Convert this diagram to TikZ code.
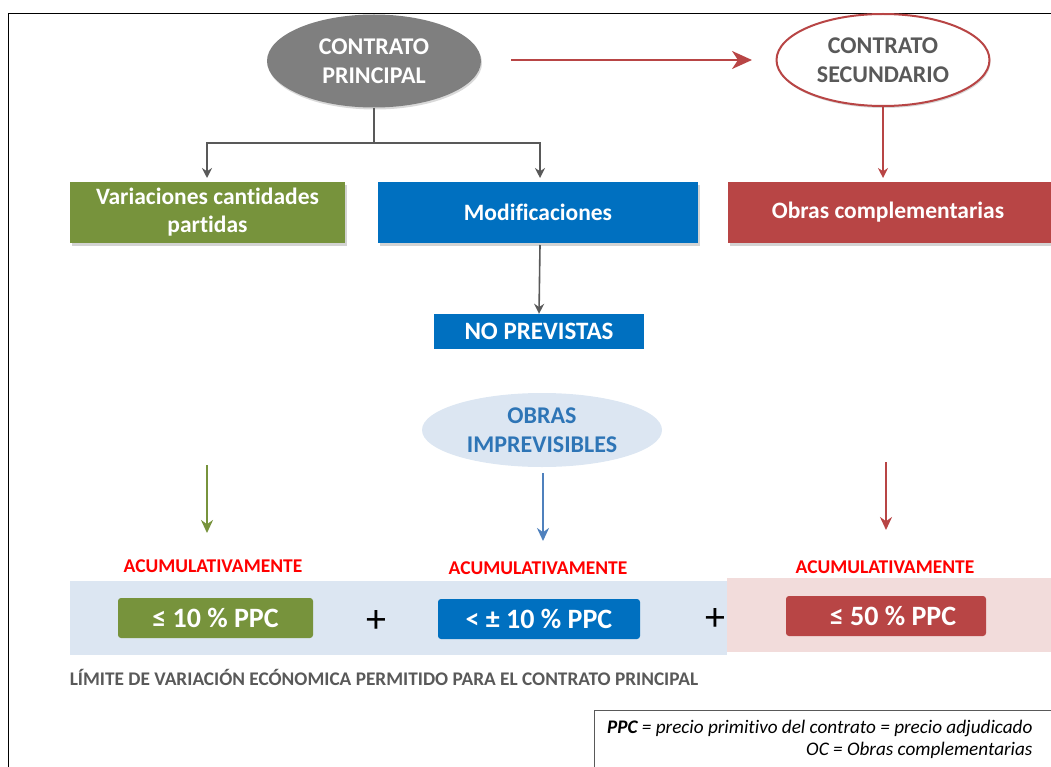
\documentclass[tikz,border=0pt]{standalone}
\usepackage{fontspec}
\setmainfont{Carlito}[Ligatures={NoCommon}]
\usetikzlibrary{shapes.geometric,arrows.meta,shadows}
\definecolor{grisc}{RGB}{127,127,127}
\definecolor{grist}{RGB}{89,89,89}
\definecolor{rojoc}{RGB}{184,69,69}
\definecolor{verdec}{RGB}{119,147,60}
\definecolor{azulc}{RGB}{0,112,192}
\definecolor{azulf}{RGB}{220,230,242}
\definecolor{azult}{RGB}{46,117,182}
\definecolor{azula}{RGB}{79,129,189}
\definecolor{rosaf}{RGB}{242,220,219}
\tikzset{
  caja/.style={draw=none, text=white, font=\bfseries\fontsize{23.5}{28}\selectfont,
    align=center, inner sep=0pt, drop shadow={shadow xshift=2pt, shadow yshift=-3pt, opacity=.35}},
  cajita/.style={rounded corners=3pt, text=white, font=\bfseries\fontsize{28}{30}\selectfont,
    minimum width=195pt, minimum height=40pt, inner sep=0pt},
  acum/.style={text=red, font=\bfseries\fontsize{19.5}{22}\selectfont},
  flecha/.style={-{Stealth[length=10pt,width=10pt]}, line width=1.6pt},
  flechon/.style={-{Stealth[length=13pt,width=12pt]}, line width=2.4pt},
  mas/.style={font=\fontsize{40}{40}\selectfont}
}
\begin{document}
\begin{tikzpicture}[x=1pt,y=-1pt]
  \useasboundingbox (0,0) rectangle (1051,767);
  % marco
  \draw[line width=0.8pt] (8,767) -- (8,13) -- (1051,13);

  % contratos
  \node[ellipse, fill=grisc, minimum width=214pt, minimum height=93pt, text=white,
    font=\bfseries\fontsize{24}{29}\selectfont, align=center,
    drop shadow={shadow xshift=1pt, shadow yshift=-2pt, opacity=.3}] (cp) at (374,61) {CONTRATO\\PRINCIPAL};
  \node[ellipse, draw=rojoc, line width=2pt, fill=white, minimum width=213pt, minimum height=92pt,
    text=grist, font=\bfseries\fontsize{24}{29}\selectfont, align=center,
    drop shadow={shadow xshift=1pt, shadow yshift=-2pt, opacity=.3}] (cs) at (883,60) {CONTRATO\\SECUNDARIO};
  \coordinate (a1) at (511,60);
  \coordinate (a2) at (752,60);
  \draw[rojoc, line width=2.5pt, -{Stealth[length=20pt,width=18pt,inset=6pt]}] (a1) -- (a2);

  % cajas
  \node[caja, fill=verdec, minimum width=275pt, minimum height=61pt] (var) at (207.5,212.5) {Variaciones cantidades\\partidas};
  \node[caja, fill=azulc, minimum width=320pt, minimum height=61pt] (mod) at (538,212.5) {Modificaciones};
  \node[caja, fill=rojoc, minimum width=330pt, minimum height=61pt] (oc) at (893,212.5) {\hspace*{-10pt}Obras complementarias};

  \coordinate (r) at (374,143);
  \draw[grist, flecha] (cp.south) -- (r) -| (207,178);
  \draw[grist, flecha] (r) -| (540,178);
  \draw[rojoc, flecha, line width=1.8pt] (cs.south) -- (883,178);

  \node[fill=azulc, text=white, font=\bfseries\fontsize{25}{28}\selectfont,
    minimum width=210pt, minimum height=35pt, inner sep=0pt] (np) at (539,331.5) {NO PREVISTAS};
  \draw[grist, flecha] (540,245) -- (np.north);

  \node[ellipse, fill=azulf, minimum width=240pt, minimum height=74pt, text=azult,
    font=\bfseries\fontsize{24}{29}\selectfont, align=center, inner sep=0pt] (oi) at (542,430) {OBRAS\\IMPREVISIBLES};

  % flechas hacia los limites
  \draw[verdec, flechon] (207,465) -- (207,533);
  \draw[azula, flechon] (543,473) -- (543,541);
  \draw[rojoc, flechon] (886,462) -- (886,530);

  % bandas
  \fill[azulf] (70,581) rectangle (727,655);
  \fill[rosaf] (727,578) rectangle (1051,652);

  \node[acum] (ac1) at (213,566) {ACUMULATIVAMENTE};
  \node[acum] (ac2) at (538,568) {ACUMULATIVAMENTE};
  \node[acum] (ac3) at (885,567) {ACUMULATIVAMENTE};

  \node[cajita, fill=verdec] (l1) at (215.5,618) {≤ 10 \% PPC};
  \node[mas] (p1) at (376,621) {+};
  \node[cajita, fill=azulc, minimum width=202pt] (l2) at (539,619) {< ± 10 \% PPC};
  \node[mas] (p2) at (715,619) {+};
  \node[cajita, fill=rojoc, minimum width=200pt] (l3) at (886,616) {\hspace*{14pt}≤ 50 \% PPC};

  \node[text=grist, font=\bfseries\fontsize{19.3}{22}\selectfont] (lim) at (384,677)
    {LÍMITE DE VARIACIÓN ECÓNOMICA PERMITIDO PARA EL CONTRATO PRINCIPAL};

  % leyenda
  \draw[grist, line width=0.6pt] (594,767) -- (594,710) -- (1051,710);
  \node[anchor=east, align=right, font=\itshape\fontsize{19.2}{22}\selectfont] (ley) at (1036,739)
    {\textbf{PPC} = precio primitivo del contrato = precio adjudicado\\OC = Obras complementarias};
\end{tikzpicture}
\end{document}
